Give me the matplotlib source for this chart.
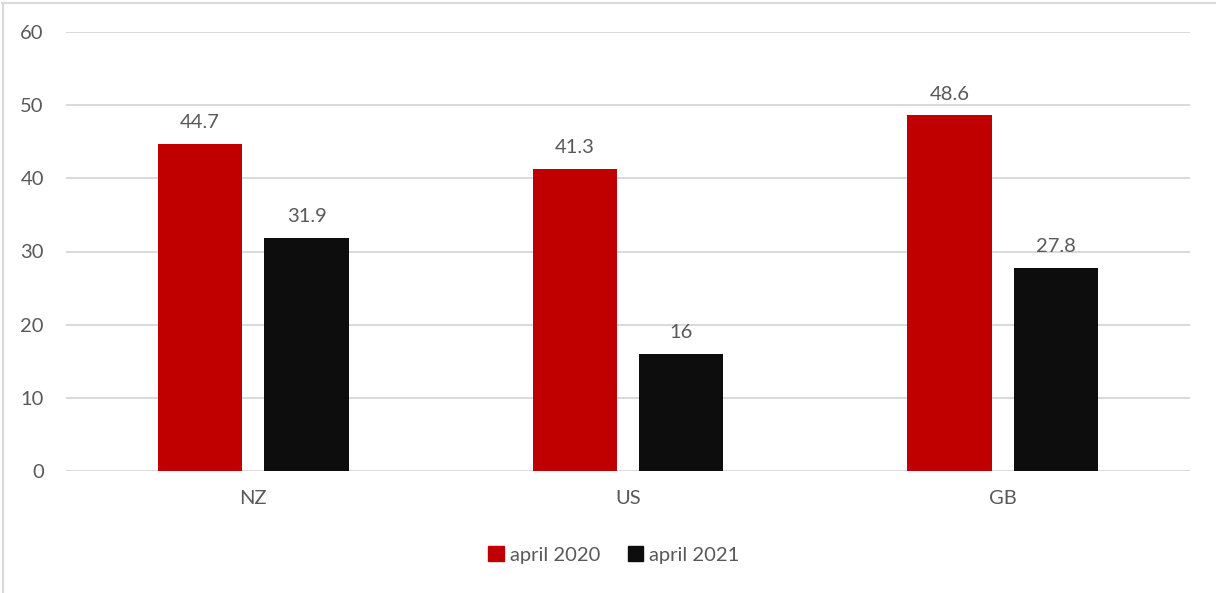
import matplotlib
matplotlib.use("Agg")
import matplotlib.pyplot as plt
import numpy as np
from matplotlib.lines import Line2D
from matplotlib.patches import Patch

categories = ["NZ", "US", "GB"]
series_names = ["april 2020", "april 2021"]
values_2020 = [44.7, 41.3, 48.6]
values_2021 = [31.9, 16, 27.8]
labels_2020 = ["44.7", "41.3", "48.6"]
labels_2021 = ["31.9", "16", "27.8"]
yticks = [0, 10, 20, 30, 40, 50, 60]

plt.rcParams['font.family'] = ['Lato', 'DejaVu Sans']
txt = '#595959'
colors = ['#C00000', '#0D0D0D']
fs = 14.5

fig = plt.figure(figsize=(12.16, 5.93), dpi=100)
ax = fig.add_axes([66/1216, 122/593, (1190-66)/1216, (471-32)/593])

x = np.arange(len(categories))
w = 0.225
off = 0.142
b1 = ax.bar(x - off, values_2020, w, color=colors[0], zorder=3)
b2 = ax.bar(x + off, values_2021, w, color=colors[1], zorder=3)
for bars, labs in ((b1, labels_2020), (b2, labels_2021)):
    for b, l in zip(bars, labs):
        ax.annotate(l, (b.get_x() + b.get_width()/2, b.get_height()),
                    xytext=(0, 9), textcoords='offset points',
                    ha='center', va='bottom', fontsize=fs, color=txt)

ax.set_xlim(-0.5, len(categories) - 0.5)
ax.set_ylim(0, 60)
ax.set_yticks(yticks)
ax.set_yticklabels([str(t) for t in yticks])
ax.set_xticks(x)
ax.set_xticklabels(categories)
ax.grid(axis='y', color='#D9D9D9', linewidth=1.4, zorder=0)
ax.set_axisbelow(True)
for s in ax.spines.values():
    s.set_visible(False)
ax.tick_params(axis='both', length=0, labelsize=fs, colors=txt)
ax.tick_params(axis='y', pad=16)
ax.tick_params(axis='x', pad=14)

handles = [Patch(color=colors[0]), Patch(color=colors[1])]
fig.legend(handles, series_names, loc='center', bbox_to_anchor=(614/1216, 1 - 555/593),
           ncol=2, frameon=False, fontsize=fs, labelcolor=txt,
           handlelength=0.75, handleheight=0.75, handletextpad=0.3, columnspacing=1.4)

# outer border (top and left visible)
fig.add_artist(Line2D([2/1216, 1], [1 - 2.5/593, 1 - 2.5/593], color='#D9D9D9', lw=1.5, transform=fig.transFigure))
fig.add_artist(Line2D([2.5/1216, 2.5/1216], [0, 1 - 2.5/593], color='#D9D9D9', lw=1.5, transform=fig.transFigure))

fig.savefig("out.png", dpi=100)
